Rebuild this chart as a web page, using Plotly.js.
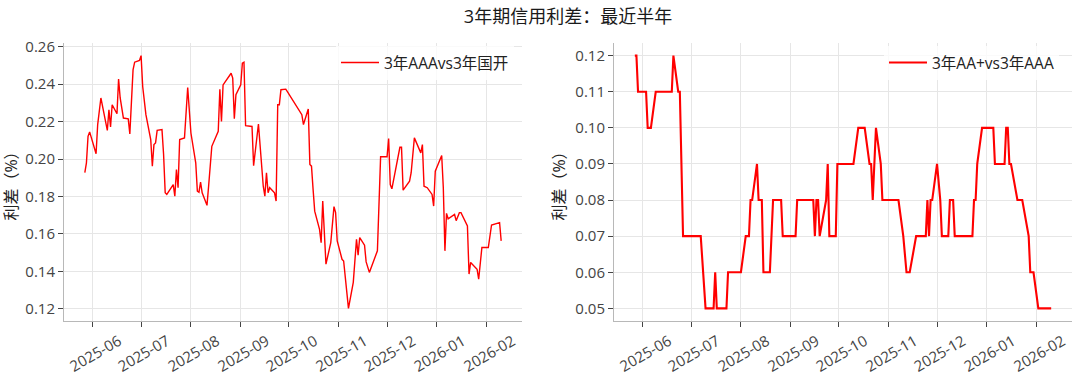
<!DOCTYPE html>
<html>
<head>
<meta charset="utf-8">
<script src="https://cdn.plot.ly/plotly-3.0.1.min.js"></script>
<style>
  html, body { margin: 0; padding: 0; background: #ffffff; }
  #chart { width: 1080px; height: 379px; }
</style>
</head>
<body>
<div id="chart"></div>
<script>
// ---- Data ----
const chartTitle = "3年期信用利差：最近半年";
const yAxisLabel = "利差（%）";
const leftSeriesName = "3年AAAvs3年国开";
const rightSeriesName = "3年AA+vs3年AAA";

const leftDates = [
  "2025-05-27","2025-05-28","2025-05-29","2025-05-30","2025-06-03","2025-06-04","2025-06-06",
  "2025-06-10","2025-06-11","2025-06-12","2025-06-13","2025-06-16","2025-06-17","2025-06-18",
  "2025-06-20","2025-06-23","2025-06-24","2025-06-26","2025-06-27","2025-06-30","2025-07-01",
  "2025-07-02","2025-07-04","2025-07-07","2025-07-08","2025-07-09","2025-07-10","2025-07-11",
  "2025-07-14","2025-07-15","2025-07-16","2025-07-17","2025-07-21","2025-07-22","2025-07-23",
  "2025-07-24","2025-07-25","2025-07-28","2025-07-30","2025-08-01","2025-08-04","2025-08-05",
  "2025-08-06","2025-08-07","2025-08-08","2025-08-11","2025-08-12","2025-08-13","2025-08-14",
  "2025-08-18","2025-08-19","2025-08-20","2025-08-21","2025-08-26","2025-08-27","2025-08-28",
  "2025-08-29","2025-09-01","2025-09-02","2025-09-03","2025-09-04","2025-09-08","2025-09-09",
  "2025-09-12","2025-09-15","2025-09-16","2025-09-17","2025-09-18","2025-09-19","2025-09-22",
  "2025-09-23","2025-09-24","2025-09-25","2025-09-26","2025-09-29","2025-09-30","2025-10-09",
  "2025-10-10","2025-10-13","2025-10-14","2025-10-15","2025-10-16","2025-10-17","2025-10-20",
  "2025-10-21","2025-10-22","2025-10-24","2025-10-27","2025-10-29","2025-10-30","2025-10-31",
  "2025-11-03","2025-11-04","2025-11-07","2025-11-10","2025-11-12","2025-11-13","2025-11-14",
  "2025-11-17","2025-11-18","2025-11-20","2025-11-25","2025-11-27","2025-12-01","2025-12-02",
  "2025-12-03","2025-12-04","2025-12-09","2025-12-10","2025-12-11","2025-12-15","2025-12-16",
  "2025-12-18","2025-12-22","2025-12-23","2025-12-24","2025-12-26","2025-12-29","2025-12-30",
  "2025-12-31","2026-01-04","2026-01-05","2026-01-06","2026-01-07","2026-01-08","2026-01-12",
  "2026-01-13","2026-01-15","2026-01-16","2026-01-20","2026-01-21","2026-01-22","2026-01-26",
  "2026-01-27","2026-01-28","2026-01-29","2026-02-02","2026-02-04","2026-02-09","2026-02-10"
];
const leftValues = [
  0.1927,0.1980,0.2121,0.2145,0.2028,0.2184,0.2326,
  0.2153,0.2263,0.2171,0.2290,0.2242,0.2427,0.2326,
  0.2219,0.2215,0.2134,0.2476,0.2517,0.2526,0.2552,
  0.2387,0.2237,0.2104,0.1962,0.2077,0.2086,0.2153,
  0.2157,0.2024,0.1820,0.1811,0.1864,0.1802,0.1944,
  0.1847,0.2104,0.2113,0.2382,0.2139,0.1980,0.1829,
  0.1823,0.1877,0.1820,0.1753,0.1855,0.1953,0.2068,
  0.2148,0.2373,0.2201,0.2396,0.2458,0.2432,0.2215,
  0.2343,0.2396,0.2512,0.2517,0.2178,0.2174,0.1965,
  0.2187,0.1855,0.1802,0.1927,0.1820,0.1847,0.1820,
  0.1776,0.2290,0.2290,0.2370,0.2373,0.2360,0.2237,
  0.2184,0.2267,0.1971,0.1962,0.1838,0.1722,0.1625,
  0.1554,0.1776,0.1439,0.1554,0.1746,0.1714,0.1563,
  0.1465,0.1456,0.1203,0.1342,0.1572,0.1487,0.1581,
  0.1540,0.1451,0.1395,0.1510,0.2012,0.2012,0.2109,
  0.1864,0.1841,0.2063,0.2063,0.1834,0.1882,0.1927,
  0.2113,0.2033,0.2077,0.1855,0.1847,0.1811,0.1749,
  0.1935,0.2019,0.1847,0.1510,0.1710,0.1681,0.1704,
  0.1671,0.1714,0.1714,0.1643,0.1386,0.1448,0.1412,
  0.1359,0.1456,0.1528,0.1528,0.1648,0.1661,0.1563
];

const rightDates = [
  "2025-05-27","2025-05-28","2025-05-29","2025-06-03","2025-06-04","2025-06-06","2025-06-09",
  "2025-06-19","2025-06-20","2025-06-23","2025-06-24","2025-06-25","2025-06-26","2025-07-07",
  "2025-07-10","2025-07-15","2025-07-16","2025-07-17","2025-07-23","2025-07-24","2025-08-01",
  "2025-08-04","2025-08-06","2025-08-07","2025-08-08","2025-08-11","2025-08-12","2025-08-14",
  "2025-08-15","2025-08-19","2025-08-21","2025-08-26","2025-08-27","2025-09-04","2025-09-05",
  "2025-09-15","2025-09-16","2025-09-17","2025-09-18","2025-09-19","2025-09-23","2025-09-24",
  "2025-09-25","2025-09-29","2025-09-30","2025-10-10","2025-10-13","2025-10-17","2025-10-20",
  "2025-10-21","2025-10-22","2025-10-24","2025-10-27","2025-10-28","2025-11-07","2025-11-10",
  "2025-11-12","2025-11-14","2025-11-18","2025-11-24","2025-11-25","2025-11-26","2025-11-27",
  "2025-11-28","2025-12-01","2025-12-03","2025-12-04","2025-12-08","2025-12-09","2025-12-11",
  "2025-12-12","2025-12-23","2025-12-24","2025-12-25","2025-12-26","2025-12-29","2026-01-05",
  "2026-01-06","2026-01-12","2026-01-13","2026-01-14","2026-01-15","2026-01-16","2026-01-20",
  "2026-01-23","2026-01-27","2026-01-28","2026-01-30","2026-02-02","2026-02-10"
];
const rightValues = [
  0.12,0.12,0.11,0.11,0.10,0.10,0.11,
  0.11,0.12,0.11,0.11,0.09,0.07,0.07,
  0.05,0.05,0.06,0.05,0.05,0.06,0.06,
  0.07,0.07,0.08,0.08,0.09,0.08,0.08,
  0.06,0.06,0.08,0.08,0.07,0.07,0.08,
  0.08,0.07,0.08,0.08,0.07,0.08,0.09,
  0.07,0.07,0.09,0.09,0.10,0.10,0.09,
  0.09,0.08,0.10,0.09,0.08,0.08,0.07,
  0.06,0.06,0.07,0.07,0.08,0.07,0.08,
  0.08,0.09,0.08,0.07,0.07,0.08,0.08,
  0.07,0.07,0.08,0.08,0.09,0.10,0.10,
  0.09,0.09,0.10,0.10,0.09,0.09,0.08,
  0.08,0.07,0.06,0.06,0.05,0.05
];

// ---- helpers: matplotlib-like 5% padding on data limits ----
function padDateRange(dates) {
  const t = dates.map(d => new Date(d + "T00:00:00Z").getTime());
  const lo = Math.min(...t), hi = Math.max(...t), m = (hi - lo) * 0.05;
  const f = ms => new Date(ms).toISOString().replace("T", " ").slice(0, 19);
  return [f(lo - m), f(hi + m)];
}
function padRange(vals) {
  const lo = Math.min(...vals), hi = Math.max(...vals), m = (hi - lo) * 0.05;
  return [lo - m, hi + m];
}

const FONT = "Open Sans, Noto Sans CJK SC, sans-serif";
const TICKCOLOR = "#444444";
const GRID = "#e6e6e6";
const AXLINE = "#b8b8b8";

const traces = [
  {
    x: leftDates, y: leftValues, type: "scatter", mode: "lines",
    name: leftSeriesName, line: { color: "#ff0000", width: 1.4 },
    xaxis: "x", yaxis: "y", legend: "legend"
  },
  {
    x: rightDates, y: rightValues, type: "scatter", mode: "lines",
    name: rightSeriesName, line: { color: "#ff0000", width: 2.1 },
    xaxis: "x2", yaxis: "y2", legend: "legend2"
  }
];

function xAxis(domain, anchor, dates) {
  return {
    domain: domain, anchor: anchor, type: "date",
    range: padDateRange(dates),
    tick0: "2025-06-01", dtick: "M1", tickformat: "%Y-%m",
    tickangle: -30, ticks: "outside", ticklen: 5, tickwidth: 1, tickcolor: TICKCOLOR,
    tickfont: { family: FONT, size: 15, color: TICKCOLOR },
    ticklabelshift: 26,
    showgrid: true, gridcolor: GRID, gridwidth: 1,
    showline: true, linecolor: AXLINE, linewidth: 1,
    zeroline: false, fixedrange: true
  };
}
function yAxis(anchor, vals, dtick) {
  return {
    anchor: anchor, domain: [0, 1],
    range: padRange(vals), dtick: dtick, tickformat: ".2f",
    ticks: "outside", ticklen: 5, tickwidth: 1, tickcolor: TICKCOLOR,
    tickfont: { family: FONT, size: 15, color: TICKCOLOR },
    title: { text: yAxisLabel, font: { family: FONT, size: 16, color: "#222222" }, standoff: 5 },
    showgrid: true, gridcolor: GRID, gridwidth: 1,
    showline: true, linecolor: AXLINE, linewidth: 1,
    zeroline: false, fixedrange: true
  };
}

const W = 1080, H = 379;
const mL = 64, mR = 8, mT = 43, mB = 57.5;
const pw = W - mL - mR;
const px2x = p => (p - mL) / pw;
const py2y = p => 1 - (p - mT) / (H - mT - mB);

const legendFont = { family: FONT, size: 15.5, color: "#222222" };

const layout = {
  width: W, height: H,
  margin: { l: mL, r: mR, t: mT, b: mB, pad: 0 },
  paper_bgcolor: "#ffffff", plot_bgcolor: "#ffffff",
  title: {
    text: chartTitle, x: 0.5, xanchor: "center", xref: "paper",
    y: 1 - 17 / H, yref: "container", yanchor: "middle",
    font: { family: FONT, size: 18, color: "#1a1a1a" }
  },
  showlegend: true,
  xaxis: xAxis([0, px2x(522)], "y", leftDates),
  yaxis: yAxis("x", leftValues, 0.02),
  xaxis2: xAxis([px2x(614), 1], "y2", rightDates),
  yaxis2: yAxis("x2", rightValues, 0.01),
  legend: {
    x: px2x(336), xanchor: "left", y: py2y(63), yanchor: "middle",
    bgcolor: "rgba(255,255,255,0.8)", borderwidth: 0, itemwidth: 38,
    font: legendFont
  },
  legend2: {
    x: px2x(884), xanchor: "left", y: py2y(63), yanchor: "middle",
    bgcolor: "rgba(255,255,255,0.8)", borderwidth: 0, itemwidth: 38,
    font: legendFont
  }
};

Plotly.newPlot("chart", traces, layout, { displayModeBar: false, staticPlot: true });
</script>
</body>
</html>
